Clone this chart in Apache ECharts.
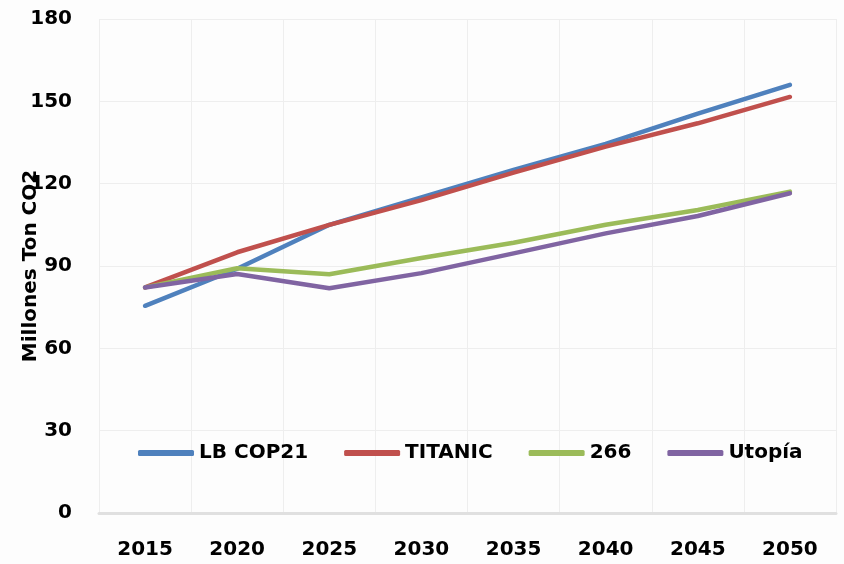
<!DOCTYPE html>
<html lang="es" style="height: 100%">
<head>
  <meta charset="utf-8">
</head>
<body style="height: 100%; margin: 0; background: #fdfdfd">
  <div id="container" style="width: 844px; height: 564px"></div>

  <script type="text/javascript" src="https://cdn.jsdelivr.net/npm/echarts@6/dist/echarts.min.js"></script>

  <script type="text/javascript">
    // datos (Millones Ton CO2)
    var years = ['2015', '2020', '2025', '2030', '2035', '2040', '2045', '2050'];
    var lbCop21 = [75.5, 89, 105, 115, 125, 134.5, 145.5, 156];
    var titanic = [82.2, 95, 105, 114, 124, 133.5, 142, 151.6];
    var s266 = [82.2, 89.2, 87, 92.9, 98.5, 105, 110.4, 117.1];
    var utopia = [82.2, 87.1, 81.9, 87.4, 94.6, 101.9, 108.2, 116.5];
    var yTicks = { min: 0, max: 180, interval: 30 };

    var font = '"DejaVu Sans", sans-serif';

    var dom = document.getElementById('container');
    var myChart = echarts.init(dom, null, { renderer: 'canvas' });

    function line(name, data, color) {
      return {
        name: name,
        type: 'line',
        data: data,
        symbol: 'none',
        smooth: false,
        itemStyle: { color: color },
        lineStyle: { color: color, width: 4.5, cap: 'round', join: 'round' }
      };
    }

    var option = {
      backgroundColor: '#fdfdfd',
      animation: false,
      grid: { left: 99, right: 8, top: 19, bottom: 51, containLabel: false, outerBoundsMode: 'none' },
      legend: {
        left: 138,
        top: 443,
        padding: 0,
        icon: 'roundRect',
        itemWidth: 56,
        itemHeight: 6,
        itemGap: 36,
        textStyle: { fontFamily: font, fontWeight: 'bold', fontSize: 20, color: '#000' },
        data: ['LB COP21', 'TITANIC', '266', 'Utopía']
      },
      xAxis: {
        type: 'category',
        data: years,
        boundaryGap: true,
        axisTick: { show: false },
        axisLine: { lineStyle: { color: '#e0e0e0', width: 3 } },
        axisLabel: { margin: 27, fontFamily: font, fontWeight: 'bold', fontSize: 20, color: '#000' },
        splitLine: { show: true, lineStyle: { color: '#eeeeee', width: 1 } }
      },
      yAxis: {
        type: 'value',
        min: yTicks.min,
        max: yTicks.max,
        interval: yTicks.interval,
        name: 'Millones Ton CO2',
        nameLocation: 'middle',
        nameRotate: 90,
        nameGap: 58,
        nameMoveOverlap: false,
        nameTextStyle: { fontFamily: font, fontWeight: 'bold', fontSize: 20, color: '#000' },
        axisLine: { show: false },
        axisTick: { show: false },
        axisLabel: { margin: 27, fontFamily: font, fontWeight: 'bold', fontSize: 20, color: '#000' },
        splitLine: { lineStyle: { color: '#eeeeee', width: 1 } }
      },
      series: [
        line('LB COP21', lbCop21, '#4f81bd'),
        line('TITANIC', titanic, '#c0504d'),
        line('266', s266, '#9bbb59'),
        line('Utopía', utopia, '#8064a2')
      ]
    };

    myChart.setOption(option);
    window.addEventListener('resize', myChart.resize);
  </script>
</body>
</html>
